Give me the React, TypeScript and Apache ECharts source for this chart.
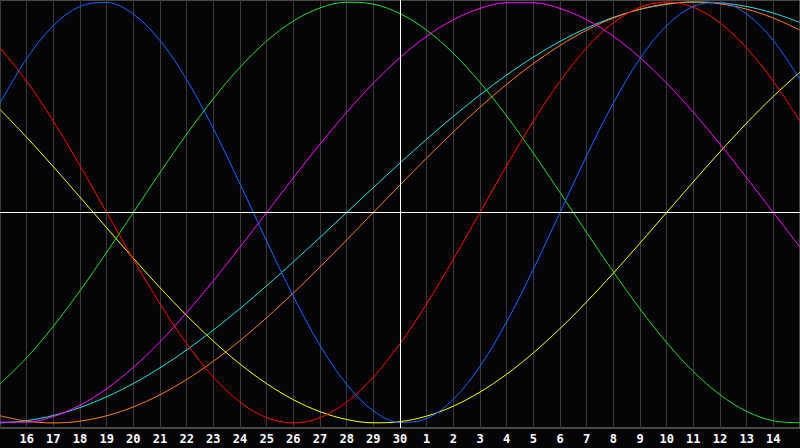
import React, { useEffect, useRef } from "react";
import * as echarts from "echarts";

// Day labels (tick labels) at x = 0..28; the x range runs from -1 to 29
const dayLabels = [
  "16", "17", "18", "19", "20", "21", "22", "23", "24", "25", "26", "27", "28", "29", "30",
  "1", "2", "3", "4", "5", "6", "7", "8", "9", "10", "11", "12", "13", "14",
];

// x positions of the points (-1 .. 29)
const xs = [-1, 0, 1, 2, 3, 4, 5, 6, 7, 8, 9, 10, 11, 12, 13, 14, 15, 16, 17, 18, 19, 20, 21, 22, 23, 24, 25, 26, 27, 28, 29];

// Series values (one value per day, from x=-1 to x=29)
const blue23 = [0.5196, 0.7308, 0.8879, 0.9791, 0.9977, 0.9423, 0.817, 0.631, 0.3984, 0.1362, -0.1362, -0.3984, -0.631, -0.817, -0.9423, -0.9977, -0.9791, -0.8879, -0.7308, -0.5196, -0.2698, 0, 0.2698, 0.5196, 0.7308, 0.8879, 0.9791, 0.9977, 0.9423, 0.817, 0.631];
const red28 = [0.7818, 0.6235, 0.4339, 0.2225, 0, -0.2225, -0.4339, -0.6235, -0.7818, -0.901, -0.9749, -1, -0.9749, -0.901, -0.7818, -0.6235, -0.4339, -0.2225, 0, 0.2225, 0.4339, 0.6235, 0.7818, 0.901, 0.9749, 1, 0.9749, 0.901, 0.7818, 0.6235, 0.4339];
const green33 = [-0.8146, -0.6901, -0.5406, -0.3717, -0.1893, 0, 0.1893, 0.3717, 0.5406, 0.6901, 0.8146, 0.9096, 0.9718, 0.9989, 0.9898, 0.945, 0.866, 0.7557, 0.6182, 0.4582, 0.2817, 0.0951, -0.0951, -0.2817, -0.4582, -0.6182, -0.7557, -0.866, -0.945, -0.9898, -0.9989];
const magenta38 = [-0.9966, -0.9966, -0.9694, -0.9158, -0.8372, -0.7357, -0.6142, -0.4759, -0.3247, -0.1646, 0, 0.1646, 0.3247, 0.4759, 0.6142, 0.7357, 0.8372, 0.9158, 0.9694, 0.9966, 0.9966, 0.9694, 0.9158, 0.8372, 0.7357, 0.6142, 0.4759, 0.3247, 0.1646, 0, -0.1646];
const yellow43 = [0.4894, 0.3572, 0.2174, 0.073, -0.073, -0.2174, -0.3572, -0.4894, -0.6112, -0.7199, -0.8133, -0.8894, -0.9465, -0.9834, -0.9993, -0.994, -0.9675, -0.9203, -0.8533, -0.7684, -0.6671, -0.5517, -0.4245, -0.2881, -0.1456, 0, 0.1456, 0.2881, 0.4245, 0.5517, 0.6671];
const orange48 = [-0.9659, -0.9914, -1, -0.9914, -0.9659, -0.9239, -0.866, -0.7934, -0.7071, -0.6088, -0.5, -0.3827, -0.2588, -0.1305, 0, 0.1305, 0.2588, 0.3827, 0.5, 0.6088, 0.7071, 0.7934, 0.866, 0.9239, 0.9659, 0.9914, 1, 0.9914, 0.9659, 0.9239, 0.866];
const cyan53 = [-0.9996, -0.989, -0.9646, -0.9267, -0.8758, -0.8126, -0.738, -0.6529, -0.5586, -0.4566, -0.3482, -0.2349, -0.1183, 0, 0.1183, 0.2349, 0.3482, 0.4566, 0.5586, 0.6529, 0.738, 0.8126, 0.8758, 0.9267, 0.9646, 0.989, 0.9996, 0.996, 0.9786, 0.9473, 0.9028];

const seriesDefs = [
  { name: "cyan", values: cyan53, color: "#22e4e4" },
  { name: "orange", values: orange48, color: "#ff8010" },
  { name: "yellow", values: yellow43, color: "#ffff00" },
  { name: "magenta", values: magenta38, color: "#ff10ff" },
  { name: "green", values: green33, color: "#22e022" },
  { name: "red", values: red28, color: "#ff0000" },
  { name: "blue", values: blue23, color: "#1468ff" },
];

export default function App() {
  const ref = useRef<HTMLDivElement>(null);

  useEffect(() => {
    document.body.style.margin = "0";
    document.body.style.background = "#050508";
    const chart = echarts.init(ref.current!, null, { renderer: "svg" });

    const series: any[] = seriesDefs.map((s) => ({
      name: s.name,
      type: "line",
      data: xs.map((x, i) => [x, s.values[i]]),
      smooth: 0.35,
      symbol: "none",
      lineStyle: { color: s.color, width: 1 },
      z: 3,
    }));

    series.push({
      name: "axes",
      type: "line",
      data: [],
      z: 2,
      markLine: {
        silent: true,
        symbol: "none",
        label: { show: false },
        lineStyle: { color: "#ffffff", width: 1, type: "solid" },
        data: [{ xAxis: 14 }, { yAxis: 0 }],
      },
    });

    chart.setOption({
      animation: false,
      backgroundColor: "#050508",
      grid: {
        left: 0,
        right: 0,
        top: 0,
        bottom: 20,
        show: true,
        borderColor: "#8a8a8a",
        borderWidth: 1,
        backgroundColor: "transparent",
      },
      xAxis: {
        type: "value",
        min: -1,
        max: 29,
        interval: 1,
        axisLine: { show: true, lineStyle: { color: "#8a8a8a", width: 1 } },
        axisTick: { show: false },
        axisLabel: {
          color: "#ffffff",
          fontFamily: "DejaVu Sans Mono",
          fontWeight: "bold",
          fontSize: 12,
          margin: 5,
          showMinLabel: false,
          showMaxLabel: false,
          formatter: (v: number) => {
            const i = Math.round(v);
            return i >= 0 && i < dayLabels.length ? dayLabels[i] : "";
          },
        },
        splitLine: { show: true, lineStyle: { color: "#3a3a3a", width: 1 } },
      },
      yAxis: {
        type: "value",
        min: -1.024,
        max: 1.0095,
        show: false,
        splitLine: { show: false },
      },
      series,
    });

    return () => chart.dispose();
  }, []);

  return <div ref={ref} style={{ width: 800, height: 448, position: "absolute", left: 0, top: 0 }} />;
}
